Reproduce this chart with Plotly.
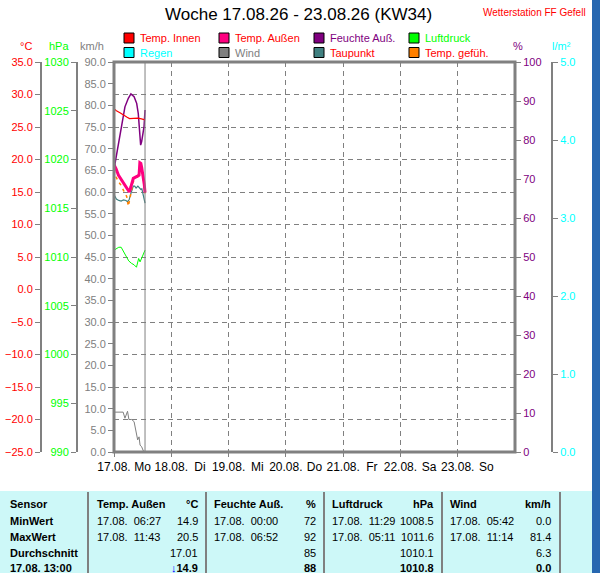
import pandas as pd
import plotly.graph_objects as go

W, H = 600, 573

temp_innen_zeit = ["00:00", "01:00", "02:30", "04:00", "05:30", "06:30", "08:00", "10:00", "11:30", "13:00"]
temp_innen = [27.8, 27.5, 27.2, 26.8, 26.5, 26.3, 26.35, 26.35, 26.25, 26.1]

temp_aussen_zeit = ["00:00", "00:50", "01:50", "03:10", "04:35", "06:00", "06:25", "07:05", "08:05",
                    "09:50", "10:30", "10:50", "11:15", "11:35", "11:55", "12:20", "12:40", "13:00"]
temp_aussen = [19.2, 18.6, 17.6, 16.85, 16.1, 15.2, 15.0, 15.8, 17.1,
               17.45, 17.6, 19.5, 19.4, 18.8, 17.5, 17.0, 16.2, 14.9]

feuchte_zeit = ["00:00", "00:25", "01:25", "02:30", "03:30", "04:35", "06:00", "07:05", "08:25",
                "09:30", "10:10", "10:35", "10:55", "11:10", "11:35", "12:00", "12:35", "13:00"]
feuchte = [72.5, 74, 77, 80.9, 85.1, 88.5, 90.7, 91.8, 91.1,
           89.4, 86.8, 83.4, 80.9, 78.7, 79.6, 81.3, 83.4, 87.7]

luftdruck_zeit = ["00:00", "01:00", "02:00", "03:00", "03:30", "04:30", "05:30", "06:10", "07:20",
                  "08:25", "09:25", "09:50", "10:20", "10:55", "11:30", "12:15", "13:00"]
luftdruck = [1010.7, 1010.9, 1011.0, 1011.0, 1010.8, 1010.4, 1009.9, 1009.6, 1009.35,
             1009.2, 1008.95, 1009.35, 1009.85, 1009.5, 1009.85, 1010.35, 1010.7]

wind_zeit = ["00:00", "03:50", "04:35", "05:15", "05:40", "06:15", "07:25", "08:25", "09:10",
             "09:55", "10:30", "10:55", "11:35", "12:20", "13:00"]
wind = [9.2, 9.2, 7.8, 8.7, 9.4, 7.5, 7.5, 7.0, 5.1, 2.8, 3.5, 1.6, 1.2, 0.2, 0.0]

taupunkt_zeit = ["00:00", "00:30", "01:00", "02:00", "03:00", "04:00", "05:00", "05:40", "06:20", "07:00",
                 "07:30", "08:05", "08:40", "09:15", "10:00", "10:35", "11:15", "11:40", "12:20", "13:00"]
taupunkt = [14.6, 14.2, 13.9, 13.7, 13.6, 13.8, 13.7, 13.5, 13.8, 14.7,
            15.3, 15.9, 15.9, 15.6, 15.9, 15.7, 15.4, 15.5, 14.2, 13.3]

gefuehlt_zeit = ["00:00", "00:50", "01:50", "02:50", "03:55", "05:20", "06:00", "06:40", "07:25",
                 "08:05", "09:00", "10:00", "10:40", "11:00", "11:30", "12:00", "12:30", "13:00"]
gefuehlt = [18.4, 17.35, 16.6, 16.1, 15.3, 14.3, 12.8, 14.0, 15.3,
            16.6, 17.1, 17.3, 17.5, 19.2, 18.9, 17.2, 16.5, 14.8]

regen_zeit = ["00:00", "13:00"]
regen = [0.0, 0.0]

tage = ["17.08.", "18.08.", "19.08.", "20.08.", "21.08.", "22.08.", "23.08."]
wochentage = ["Mo", "Di", "Mi", "Do", "Fr", "Sa", "So"]

# Tabelle unten
tab_kopf = ["Sensor", "Temp. Außen", "°C", "Feuchte Auß.", "%", "Luftdruck", "hPa", "Wind", "km/h"]
tab_zeilen = ["MinWert", "MaxWert", "Durchschnitt", "17.08. 13:00"]
tab_temp = [("17.08.\u00a0 06:27", "14.9"), ("17.08.\u00a0 11:43", "20.5"), ("", "17.01"), ("", "14.9")]
tab_feuchte = [("17.08.\u00a0 00:00", "72"), ("17.08.\u00a0 06:52", "92"), ("", "85"), ("", "88")]
tab_druck = [("17.08.\u00a0 11:29", "1008.5"), ("17.08.\u00a0 05:11", "1011.6"), ("", "1010.1"), ("", "1010.8")]
tab_wind = [("17.08.\u00a0 05:42", "0.0"), ("17.08.\u00a0 11:14", "81.4"), ("", "6.3"), ("", "0.0")]

FONT = "Liberation Sans, Arial, sans-serif"
GRAU = "#808080"
TICK = 11


def px(x):
    return x / W


def py(y):
    return 1 - y / H


def zeit(tl):
    return pd.to_datetime(["2026-08-17 " + t for t in tl])


fig = go.Figure()
fig.add_trace(go.Scatter(x=zeit(regen_zeit), y=regen, xaxis="x2", yaxis="y5", mode="lines",
                         line=dict(color="#00ffff", width=1)))
fig.add_trace(go.Scatter(x=zeit(wind_zeit), y=wind, yaxis="y", mode="lines",
                         line=dict(color=GRAU, width=1)))
fig.add_trace(go.Scatter(x=zeit(luftdruck_zeit), y=luftdruck, yaxis="y3", mode="lines",
                         line=dict(color="#00ff00", width=1)))
fig.add_trace(go.Scatter(x=zeit(taupunkt_zeit), y=taupunkt, yaxis="y2", mode="lines",
                         line=dict(color="#408080", width=1.2)))
fig.add_trace(go.Scatter(x=zeit(gefuehlt_zeit), y=gefuehlt, yaxis="y2", mode="lines",
                         line=dict(color="#ff8000", width=1.5, dash="3px,4px")))
# Temp. Innen auf der (gleich skalierten) Gitter-Achse, damit das Gitter gezeichnet wird
fig.add_trace(go.Scatter(x=zeit(temp_innen_zeit), y=temp_innen, yaxis="y6", mode="lines",
                         line=dict(color="#ff0000", width=1.2)))
fig.add_trace(go.Scatter(x=zeit(feuchte_zeit), y=feuchte, yaxis="y4", mode="lines",
                         line=dict(color="#800080", width=1.5)))
fig.add_trace(go.Scatter(x=zeit(temp_aussen_zeit), y=temp_aussen, yaxis="y2", mode="lines",
                         line=dict(color="#ff0080", width=3)))

xr = ["2026-08-17 00:00", "2026-08-24 00:00"]
mitternacht = pd.date_range("2026-08-17", periods=7, freq="D")
mittag = mitternacht + pd.Timedelta(hours=12)
ydom = [py(452), py(62)]

achse = dict(ticks="outside", ticklen=5, tickcolor=GRAU, showgrid=False, zeroline=False,
             automargin=False)

fig.update_layout(
    width=W, height=H,
    margin=dict(l=0, r=0, t=0, b=0),
    paper_bgcolor="white", plot_bgcolor="white",
    showlegend=False,
    font=dict(family=FONT, size=12),
    xaxis=dict(domain=[px(114), px(515)], range=xr, anchor="y", tickvals=mitternacht, ticktext=tage,
               showgrid=True, gridcolor=GRAU, griddash="5px,4px", ticks="outside", ticklen=4,
               tickcolor=GRAU, tickfont=dict(color="black", size=12), zeroline=False, automargin=False),
    xaxis2=dict(overlaying="x", anchor="y", side="bottom", range=xr, tickvals=mittag, ticktext=wochentage,
                showgrid=False, ticks="outside", ticklen=4, tickcolor="rgba(0,0,0,0)",
                tickfont=dict(color="black", size=12), zeroline=False, automargin=False),
    yaxis=dict(domain=ydom, range=[0, 90], dtick=5, tickformat=".1f", anchor="x", side="left",
               tickfont=dict(color=GRAU, size=TICK), **achse),
    yaxis2=dict(overlaying="y", anchor="free", position=px(41), side="left", range=[-25, 35], dtick=5,
                tickformat=".1f", tickfont=dict(color="#ff0000", size=TICK),
                showline=True, linecolor=GRAU, linewidth=2, **achse),
    yaxis3=dict(overlaying="y", anchor="free", position=px(77), side="left", range=[990, 1030], dtick=5,
                tickfont=dict(color="#00ff00", size=TICK),
                showline=True, linecolor=GRAU, linewidth=2, **achse),
    yaxis4=dict(overlaying="y", anchor="x", side="right", range=[0, 100], dtick=10,
                tickfont=dict(color="#800080", size=TICK), **achse),
    yaxis5=dict(overlaying="y", anchor="free", position=px(552), side="right", range=[0, 5], dtick=1,
                tickformat=".1f", tickfont=dict(color="#00ffff", size=TICK),
                showline=True, linecolor=GRAU, linewidth=2, **achse),
    yaxis6=dict(overlaying="y", anchor="x", side="left", range=[-25, 35], dtick=5, showticklabels=False,
                ticks="", showgrid=True, gridcolor=GRAU, griddash="5px,4px", zeroline=False,
                showline=False, automargin=False),
)

shapes = []
# Rahmen Diagramm
shapes.append(dict(type="rect", xref="paper", yref="paper", x0=px(114), x1=px(515), y0=py(452), y1=py(62),
                   line=dict(color=GRAU, width=3), layer="above"))
# aktuelle Zeit
shapes.append(dict(type="line", xref="x", yref="paper", x0="2026-08-17 13:00", x1="2026-08-17 13:00",
                   y0=py(452), y1=py(62), line=dict(color=GRAU, width=1)))
# Tabelle
shapes.append(dict(type="rect", xref="paper", yref="paper", x0=0, x1=px(592), y0=0, y1=py(491),
                   fillcolor="#cdf8f8", line=dict(width=0), layer="below"))
for xl in [88, 206, 324, 442, 560]:
    shapes.append(dict(type="line", xref="paper", yref="paper", x0=px(xl), x1=px(xl), y0=0, y1=py(492),
                       line=dict(color=GRAU, width=2)))
# Fensterhintergrund rechts
shapes.append(dict(type="rect", xref="paper", yref="paper", x0=px(592), x1=1, y0=0, y1=1,
                   fillcolor="#2767b0", line=dict(width=0)))

ann = []


def text(x, y, t, color="black", size=12, anchor="left", bold=False):
    if bold:
        t = "<b>" + t + "</b>"
    ann.append(dict(x=px(x), y=py(y), xref="paper", yref="paper", text=t, showarrow=False,
                    xanchor=anchor, yanchor="middle", font=dict(color=color, size=size, family=FONT)))


text(298, 15, "Woche 17.08.26 - 23.08.26 (KW34)", size=17, anchor="center")
text(588, 12, "Wetterstation FF Gefell", color="#ff0000", size=10, anchor="right")

# Achsentitel
text(26, 46, "°C", "#ff0000", size=11, anchor="center")
text(59, 46, "hPa", "#00ff00", size=11, anchor="center")
text(92, 46, "km/h", GRAU, size=11, anchor="center")
text(518, 46, "%", "#800080", size=11, anchor="center")
text(561, 46, "l/m²", "#00ffff", size=11, anchor="center")

# Legende
legende = [
    ("Temp. Innen", "#ff0000", "#ff0000"), ("Temp. Außen", "#ff0080", "#ff0000"),
    ("Feuchte Auß.", "#800080", "#800080"), ("Luftdruck", "#00ff00", "#00ff00"),
    ("Regen", "#00ffff", "#00ffff"), ("Wind", GRAU, GRAU),
    ("Taupunkt", "#408080", "#ff0000"), ("Temp. gefüh.", "#ff8000", "#ff0000"),
]
for i, (name, box, col) in enumerate(legende):
    bx = 124 + 95 * (i % 4)
    by = 38 if i < 4 else 52.5
    shapes.append(dict(type="rect", xref="paper", yref="paper", x0=px(bx), x1=px(bx + 10),
                       y0=py(by + 5), y1=py(by - 5), fillcolor=box, line=dict(color="black", width=1)))
    text(bx + 14, by, name, col, size=11)

# Tabelle Text
TS = 11
zeilen_y = [504, 521, 537, 553, 568]
text(8, zeilen_y[0], tab_kopf[0], size=TS, bold=True)
spalten = [(95, 200, tab_temp), (212, 318, tab_feuchte), (330, 436, tab_druck), (448, 553, tab_wind)]
for k, (xl, xr_, werte) in enumerate(spalten):
    text(xl, zeilen_y[0], tab_kopf[1 + 2 * k], size=TS, bold=True)
    text(xr_, zeilen_y[0], tab_kopf[2 + 2 * k], size=TS, anchor="right", bold=True)
    for j, (dt, v) in enumerate(werte):
        letzte = j == 3
        if dt:
            text(xl, zeilen_y[j + 1], dt, size=TS)
        if letzte and k == 0:
            v = "<span style='color:#0000ff'>↓</span><b>" + v + "</b>"
            text(xr_, zeilen_y[j + 1], v, size=TS, anchor="right")
        else:
            text(xr_, zeilen_y[j + 1], v, size=TS, anchor="right", bold=letzte)
for j, z in enumerate(tab_zeilen):
    text(8, zeilen_y[j + 1], z, size=TS, bold=True)

fig.update_layout(shapes=shapes, annotations=ann)
fig.write_html("out.html", config={"displayModeBar": False},
               post_script="document.body.style.margin='0';")
